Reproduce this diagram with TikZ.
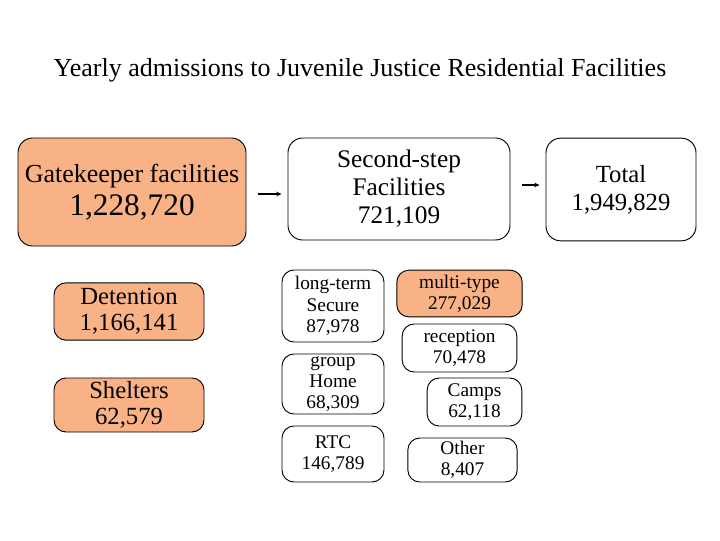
\documentclass[tikz,border=0pt]{standalone}
\usepackage{fontspec}
\setmainfont{Liberation Serif}
\usetikzlibrary{arrows.meta,calc}
\definecolor{peach}{HTML}{F9B286}
\tikzset{
  box/.style={draw=black, line width=0.7pt, rounded corners=9pt, inner sep=0pt, align=center, fill=white},
  hot/.style={box, fill=peach},
  arr/.style={-{Stealth[length=4pt,width=3.5pt]}, line width=0.8pt},
}
\newcommand{\fs}[2]{\fontsize{#1}{#2}\selectfont}
\begin{document}
\begin{tikzpicture}[x=0.75pt,y=-0.75pt]
\useasboundingbox (0,0) rectangle (720,540);
\node[font=\fs{19.5}{22}] (title) at (360,70) {Yearly admissions to Juvenile Justice Residential Facilities};
\node[hot, minimum width=171pt, minimum height=81pt, rounded corners=11pt] (gate) at (132,192) {{\fs{19.5}{22}Gatekeeper facilities}\\[4pt]{\fs{23.5}{26}1,228,720}};
\node[box, minimum width=166.5pt, minimum height=76.5pt, rounded corners=11pt, font=\fs{19}{21}] (second) at (399,189) {Second-step\\Facilities\\721,109};
\node[box, minimum width=112.5pt, minimum height=77pt, rounded corners=11pt, font=\fs{18.5}{21}] (total) at (621,189.5) {Total\\1,949,829};
\node[hot, minimum width=112.5pt, minimum height=43pt, font=\fs{18.5}{19.5}] (det) at (129,311.5) {Detention\\1,166,141};
\node[hot, minimum width=112.5pt, minimum height=40.5pt, font=\fs{18.5}{19.5}] (shel) at (129,405) {Shelters\\62,579};
\node[box, minimum width=76.5pt, minimum height=54pt, font=\fs{14.5}{16}] (lt) at (333,306) {long-term\\Secure\\87,978};
\node[box, minimum width=76.5pt, minimum height=45pt, font=\fs{14.5}{16}] (gh) at (333,384) {group\\Home\\68,309};
\node[box, minimum width=76.5pt, minimum height=42pt, font=\fs{14.5}{16}] (rtc) at (333,454) {RTC\\146,789};
\node[hot, minimum width=94pt, minimum height=35pt, font=\fs{14.5}{16}] (multi) at (459.5,293.5) {multi-type\\277,029};
\node[box, minimum width=86pt, minimum height=36pt, font=\fs{14.5}{16}] (rec) at (459.5,348) {reception\\70,478};
\node[box, minimum width=71pt, minimum height=36pt, font=\fs{14.5}{16}] (camps) at (474.5,402) {Camps\\62,118};
\node[box, minimum width=82pt, minimum height=33pt, font=\fs{14.5}{16}] (other) at (462.5,460) {Other\\8,407};
\draw[arr] ($(gate.east)+(12,2)$) -- ($(second.west)+(-6,5)$);
\draw[arr] ($(second.east)+(12,-4)$) -- ($(total.west)+(-6,-4.5)$);
\end{tikzpicture}
\end{document}
